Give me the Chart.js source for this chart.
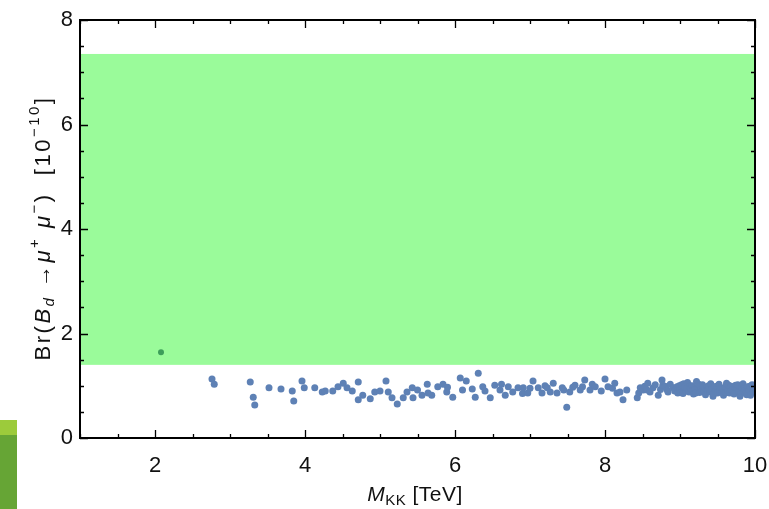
<!DOCTYPE html>
<html>
<head>
<meta charset="utf-8">
<script src="https://cdn.jsdelivr.net/npm/chart.js@4.4.0/dist/chart.umd.min.js"></script>
<style>
  html, body { margin: 0; padding: 0; background: #fff; overflow: hidden; }
  #wrap { position: relative; width: 769px; height: 509px; }
  #stripe { position: absolute; left: 0; top: 420px; width: 17px; height: 89px;
            background: #66a535; border-top: 15px solid #9ccb3b; box-sizing: border-box; }
</style>
</head>
<body>
<div id="wrap">
  <canvas id="chart" width="769" height="509"></canvas>
  <div id="stripe"></div>
</div>
<script>
// axis ranges and ticks
const xRange = [1, 10];
const yRange = [0, 8];
const xTickValues = [2, 4, 6, 8, 10];
const yTickValues = [0, 2, 4, 6, 8];
const minorStep = 0.5;

// allowed (experimental) band for Br
const bandRange = [1.4, 7.35];

// single point inside the band
const greenMkk = [2.08];
const greenBr = [1.64];

// scan points: M_KK [TeV] and Br [1e-10]
const mkkValues = [
  2.76, 2.79, 3.27, 3.31, 3.33, 3.52, 3.68, 3.83, 3.85, 3.96, 3.99, 4.13, 4.23, 4.27, 4.37,
  4.44, 4.51, 4.56, 4.63, 4.71, 4.71, 4.77, 4.87, 4.93, 5.00, 5.08, 5.11, 5.16, 5.23, 5.31,
  5.36, 5.43, 5.44, 5.50, 5.56, 5.63, 5.64, 5.69, 5.77, 5.84, 5.89, 5.90, 5.97, 6.07, 6.10,
  6.15, 6.23, 6.27, 6.31, 6.37, 6.40, 6.47, 6.53, 6.60, 6.62, 6.67, 6.71, 6.77, 6.84, 6.90,
  6.91, 6.97, 7.00, 7.04, 7.11, 7.16, 7.20, 7.23, 7.27, 7.31, 7.36, 7.43, 7.45, 7.49, 7.53,
  7.57, 7.60, 7.67, 7.70, 7.73, 7.80, 7.83, 7.87, 7.95, 8.00, 8.04, 8.10, 8.13, 8.16, 8.20,
  8.24, 8.29, 8.43, 8.45, 8.47, 8.51, 8.53, 8.56, 8.57, 8.60, 8.64, 8.67, 8.71, 8.74, 8.76,
  8.77, 8.80, 8.83, 8.84, 8.87, 8.91, 8.93, 8.96, 8.97, 8.99,
  9.00, 9.01, 9.02, 9.04, 9.05, 9.06, 9.08, 9.09, 9.10, 9.12, 9.13, 9.14, 9.16, 9.17, 9.18,
  9.20, 9.21, 9.22, 9.24, 9.25, 9.26, 9.28, 9.29, 9.30, 9.32, 9.33, 9.34, 9.36, 9.37, 9.38,
  9.40, 9.41, 9.42, 9.44, 9.45, 9.46, 9.48, 9.49, 9.50, 9.52, 9.53, 9.54, 9.56, 9.57, 9.58,
  9.60, 9.61, 9.62, 9.64, 9.65, 9.66, 9.68, 9.69, 9.70, 9.72, 9.73, 9.74, 9.76, 9.77, 9.78,
  9.80, 9.81, 9.82, 9.84, 9.85, 9.86, 9.88, 9.89, 9.90, 9.92, 9.93, 9.94, 9.96, 9.97, 9.98, 10.0
];
const brValues = [
  1.13, 1.03, 1.07, 0.78, 0.63, 0.96, 0.94, 0.90, 0.71, 1.09, 0.96, 0.96, 0.88, 0.90, 0.90,
  0.98, 1.05, 0.96, 0.90, 1.07, 0.73, 0.82, 0.75, 0.88, 0.90, 1.09, 0.88, 0.77, 0.65, 0.77,
  0.88, 0.96, 0.77, 0.92, 0.82, 1.03, 0.86, 0.82, 0.98, 1.03, 0.88, 0.97, 0.78, 1.15, 0.92,
  1.09, 0.94, 0.78, 1.24, 0.98, 0.90, 0.77, 1.01, 0.92, 1.03, 0.82, 0.98, 0.88, 0.96, 0.85,
  0.96, 0.86, 0.95, 1.09, 0.96, 0.86, 1.00, 0.96, 0.88, 1.05, 0.86, 0.96, 0.92, 0.59, 0.88,
  0.97, 1.01, 0.92, 0.98, 1.11, 0.92, 1.03, 0.98, 0.90, 1.13, 0.98, 0.95, 1.05, 0.86, 0.88,
  0.73, 0.92, 0.77, 0.86, 0.96, 0.92, 0.99, 0.92, 1.05, 0.88, 0.96, 1.02, 0.82, 0.93, 1.11,
  1.01, 0.99, 0.92, 0.88, 1.03, 0.96, 0.90, 0.98, 0.86, 1.00,
  0.92, 0.87, 1.02, 0.85, 1.04, 0.97, 0.90, 0.95, 1.06, 0.88, 1.00, 0.95, 1.00, 0.91, 0.84,
  0.93, 0.86, 1.08, 0.97, 1.03, 0.87, 0.94, 0.89, 1.02, 0.90, 0.97, 0.83, 0.96, 0.92, 1.00,
  0.88, 1.04, 0.93, 0.80, 0.85, 0.98, 0.91, 0.99, 0.86, 1.03, 0.90, 0.94, 0.89, 0.95, 0.82,
  0.97, 0.87, 1.05, 0.90, 1.01, 0.86, 0.99, 0.91, 0.93, 0.84, 0.97, 1.01, 0.95, 1.02, 0.88,
  0.80, 0.89, 0.97, 1.04, 0.94, 0.91, 0.85, 0.83, 0.98, 0.92, 0.99, 0.82, 1.02, 0.94, 0.89, 0.95
];

const FONT = '"Liberation Sans", Arial, sans-serif';

function toPoints(xs, ys) {
  return xs.map((x, i) => ({ x: x, y: ys[i] }));
}

// draws text parts with italics / sub / superscripts, centred on (0,0)
function drawRich(ctx, parts, size, spacing) {
  const fontFor = p => (p.it ? 'italic ' : '') +
    ((p.sub || p.sup) ? Math.round(size * 0.7) : size) + 'px ' + FONT;
  ctx.letterSpacing = spacing + 'px';
  let total = 0;
  parts.forEach(p => { ctx.font = fontFor(p); p.w = ctx.measureText(p.t).width; total += p.w; });
  let x = -total / 2;
  parts.forEach(p => {
    ctx.font = fontFor(p);
    const dy = p.sub ? size * 0.28 : p.sup ? -size * 0.42 : 0;
    ctx.fillText(p.t, x, dy);
    x += p.w;
  });
}

const yTitle = [
  { t: 'Br(' }, { t: 'B', it: true }, { t: 'd', it: true, sub: true }, { t: ' \u2192' },
  { t: '\u03bc', it: true }, { t: '+', sup: true }, { t: ' \u03bc', it: true }, { t: '\u2212', sup: true },
  { t: ')  [10' }, { t: '\u221210', sup: true }, { t: ']' }
];
const xTitle = [{ t: 'M', it: true }, { t: 'KK', sub: true }, { t: ' [TeV]' }];

const bandPlugin = {
  id: 'band',
  beforeDatasetsDraw(chart) {
    const { ctx, scales: { x, y } } = chart;
    const left = x.getPixelForValue(xRange[0]);
    const right = x.getPixelForValue(xRange[1]);
    const top = y.getPixelForValue(bandRange[1]);
    const bottom = y.getPixelForValue(bandRange[0]);
    ctx.save();
    ctx.fillStyle = '#9afb9a';
    ctx.fillRect(left, top, right - left, bottom - top);
    ctx.restore();
  }
};

const framePlugin = {
  id: 'frame',
  afterDatasetsDraw(chart) {
    const { ctx, chartArea: a, scales: { x, y } } = chart;
    ctx.save();
    ctx.strokeStyle = '#000';
    ctx.lineWidth = 1.3;
    // ticks on all four sides, pointing inward
    for (let v = xRange[0]; v <= xRange[1] + 1e-9; v += minorStep) {
      const px = Math.round(x.getPixelForValue(v)) + 0.5;
      const len = xTickValues.includes(v) ? 8 : 4;
      ctx.beginPath();
      ctx.moveTo(px, a.bottom); ctx.lineTo(px, a.bottom - len);
      ctx.moveTo(px, a.top); ctx.lineTo(px, a.top + len);
      ctx.stroke();
    }
    for (let v = yRange[0]; v <= yRange[1] + 1e-9; v += minorStep) {
      const py = Math.round(y.getPixelForValue(v)) + 0.5;
      const len = yTickValues.includes(v) ? 8 : 4;
      ctx.beginPath();
      ctx.moveTo(a.left, py); ctx.lineTo(a.left + len, py);
      ctx.moveTo(a.right, py); ctx.lineTo(a.right - len, py);
      ctx.stroke();
    }
    ctx.lineWidth = 2;
    ctx.strokeRect(a.left, a.top, a.right - a.left, a.bottom - a.top);
    ctx.restore();
  },
  afterDraw(chart) {
    const { ctx } = chart;
    ctx.save();
    ctx.fillStyle = '#111';
    ctx.textBaseline = 'middle';
    ctx.textAlign = 'left';
    ctx.translate(44, 228);
    ctx.rotate(-Math.PI / 2);
    drawRich(ctx, yTitle, 22, 2.5);
    ctx.restore();

    ctx.save();
    ctx.fillStyle = '#111';
    ctx.textBaseline = 'middle';
    ctx.textAlign = 'left';
    ctx.translate(415, 495);
    drawRich(ctx, xTitle, 21, 0.5);
    ctx.restore();
  }
};

new Chart(document.getElementById('chart'), {
  type: 'scatter',
  data: {
    datasets: [
      {
        data: toPoints(mkkValues, brValues),
        backgroundColor: '#5e81b5',
        pointRadius: 3.5,
        pointBorderWidth: 0,
        pointHoverRadius: 3.5
      },
      {
        data: toPoints(greenMkk, greenBr),
        backgroundColor: '#3d9e5a',
        pointRadius: 3,
        pointBorderWidth: 0
      }
    ]
  },
  options: {
    responsive: false,
    animation: false,
    devicePixelRatio: 1,
    layout: { padding: { top: 20, right: 14, left: 0, bottom: 0 } },
    plugins: { legend: { display: false }, tooltip: { enabled: false } },
    scales: {
      x: {
        type: 'linear',
        min: xRange[0], max: xRange[1],
        grid: { display: false, drawTicks: false },
        border: { display: false },
        afterBuildTicks: s => { s.ticks = xTickValues.map(v => ({ value: v })); },
        afterFit: s => { s.height = 71; s.paddingRight = 0; s.paddingLeft = 0; },
        ticks: { color: '#111', padding: 15, font: { family: FONT, size: 22 } }
      },
      y: {
        min: yRange[0], max: yRange[1],
        grid: { display: false, drawTicks: false },
        border: { display: false },
        afterBuildTicks: s => { s.ticks = yTickValues.map(v => ({ value: v })); },
        afterFit: s => { s.width = 80; s.paddingTop = 0; s.paddingBottom = 0; },
        ticks: { color: '#111', padding: 7, font: { family: FONT, size: 22 } }
      }
    }
  },
  plugins: [bandPlugin, framePlugin]
});
</script>
</body>
</html>
